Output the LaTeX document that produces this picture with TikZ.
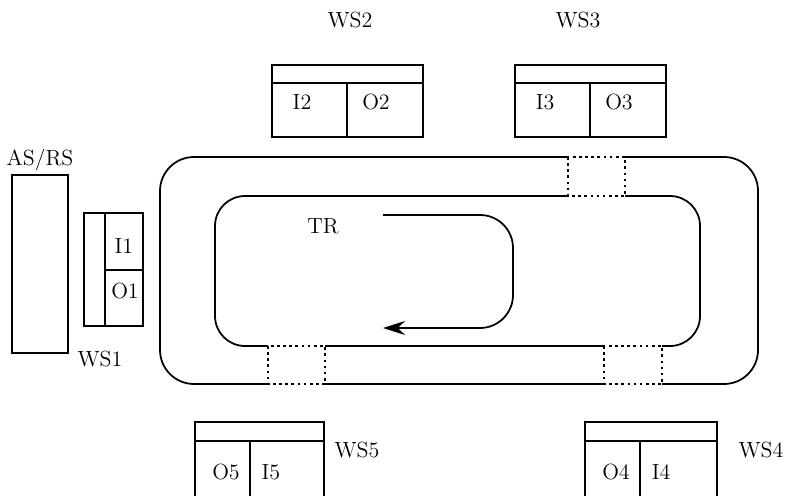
\documentclass[tikz,border=0pt]{standalone}
\usetikzlibrary{arrows.meta}
\begin{document}
\begin{tikzpicture}[x=0.02cm, y=-0.02cm, line width=1pt,
  lbl/.style={inner sep=0pt, font=\fontsize{12.5}{15}\selectfont},
  gap/.style={line width=1.2pt, dash pattern=on 1.5pt off 2pt},
  >={Stealth[length=4.4mm, width=2.8mm]}]
  \useasboundingbox (0,0) rectangle (787,496);
  % storage
  \draw (12,175) rectangle (68,353);
  \node[lbl] (asrs) at (40,160) {AS/RS};
  % WS1
  \draw (84,213) rectangle (143,326);
  \draw (105,213) -- (105,326) (105,270) -- (143,270);
  \node[lbl] (i1) at (124,246) {I1};
  \node[lbl] (o1) at (125,291) {O1};
  \node[lbl] (ws1) at (100,359) {WS1};
  % upper stations
  \foreach \xl/\k/\lx in {272/2/350, 515/3/578} {
    \draw (\xl,65) rectangle ++(151,72);
    \draw (\xl,83) -- ++(151,0) (\xl+75,83) -- (\xl+75,137);
    \node[lbl] (i\k) at (\xl+30,102) {I\k};
    \node[lbl] (o\k) at (\xl+104,102) {O\k};
    \node[lbl] (ws\k) at (\lx,20) {WS\k};
  }
  % lower stations
  \foreach \xl/\w/\k/\lx in {195/129/5/357, 585/132/4/761} {
    \draw (\xl,496) |- (\xl+\w,422) -- (\xl+\w,496);
    \draw (\xl,441) -- ++(\w,0) (\xl+55,441) -- (\xl+55,496);
    \node[lbl] (o\k) at (\xl+31,472) {O\k};
    \node[lbl] (i\k) at (\xl+76,472) {I\k};
    \node[lbl] (ws\k) at (\lx,450) {WS\k};
  }
  % track
  \draw[rounded corners=0.68cm] (568,157) -- (160,157) -- (160,384) -- (268,384);
  \draw[rounded corners=0.68cm] (625,157) -- (758,157) -- (758,384) -- (662,384);
  \draw (325,384) -- (604,384);
  \draw[rounded corners=0.6cm] (568,196) -- (215,196) -- (215,346) -- (268,346);
  \draw[rounded corners=0.6cm] (625,196) -- (700,196) -- (700,346) -- (662,346);
  \draw (325,346) -- (604,346);
  \foreach \ga/\gb/\gt/\gu in {568/625/157/196, 268/325/346/384, 604/662/346/384}
    \draw[gap] (\ga,\gt) rectangle (\gb,\gu);
  % direction
  \coordinate (trin) at (383,215);
  \coordinate (trout) at (383,328);
  \draw[->, rounded corners=0.66cm] (trin) -- (513,215) -- (513,328) -- (trout);
  \node[lbl] (tr) at (323,226) {TR};
\end{tikzpicture}
\end{document}
